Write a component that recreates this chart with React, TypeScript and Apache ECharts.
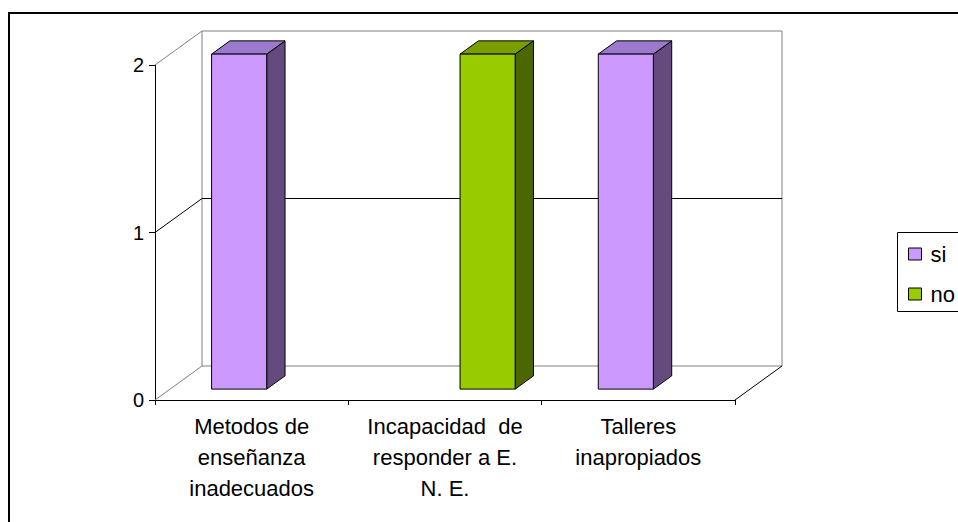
import React, { useEffect, useRef } from "react";
import * as echarts from "echarts";

const categories = [
  "Metodos de\nenseñanza\ninadecuados",
  "Incapacidad  de\nresponder a E.\nN. E.",
  "Talleres\ninapropiados",
];
const siValues = [2, 0, 2];
const noValues = [0, 2, 0];
const yMin = 0;
const yMax = 2;
const yInterval = 1;

const FONT = "'Liberation Sans', Arial, sans-serif";
const DX = 47;
const DY = -34;
const F1 = 0.32;
const F2 = 0.71;
const GRAY = "#808080";

const siColors = { front: "#CC99FF", top: "#9B79CC", side: "#654A80" };
const noColors = { front: "#99CC00", top: "#7A9E00", side: "#4C6600" };

function makeBarRenderer(slot: number, colors: { front: string; top: string; side: string }) {
  return (params: any, api: any) => {
    const v = api.value(1);
    if (!v) return null;
    const c = api.value(0);
    const base = api.coord([c, 0]);
    const top = api.coord([c, v]);
    const band = api.size([1, 0])[0];
    const bw = band * 0.285;
    const x0 = base[0] - band / 2 + band * 0.215 + slot * bw + F1 * DX;
    const yb = base[1] + F1 * DY;
    const yt = top[1] + F1 * DY;
    const ddx = (F2 - F1) * DX;
    const ddy = (F2 - F1) * DY;
    return {
      type: "group",
      children: [
        {
          type: "polygon",
          shape: {
            points: [
              [x0 + bw, yt],
              [x0 + bw + ddx, yt + ddy],
              [x0 + bw + ddx, yb + ddy],
              [x0 + bw, yb],
            ],
          },
          style: { fill: colors.side, stroke: "#000", lineWidth: 1 },
        },
        {
          type: "polygon",
          shape: {
            points: [
              [x0, yt],
              [x0 + bw, yt],
              [x0 + bw + ddx, yt + ddy],
              [x0 + ddx, yt + ddy],
            ],
          },
          style: { fill: colors.top, stroke: "#000", lineWidth: 1 },
        },
        {
          type: "rect",
          shape: { x: x0, y: yt, width: bw, height: yb - yt },
          style: { fill: colors.front, stroke: "#000", lineWidth: 1 },
        },
      ],
    };
  };
}

function wallRenderer(params: any, api: any) {
  const cs = params.coordSys;
  const x0 = cs.x;
  const x1 = cs.x + cs.width;
  const yb = api.coord([0, yMin])[1];
  const yt = api.coord([0, yMax])[1];
  const children: any[] = [
    {
      type: "rect",
      shape: { x: x0 + DX, y: yt + DY, width: x1 - x0, height: yb - yt },
      style: { fill: "#fff", stroke: GRAY, lineWidth: 1 },
    },
    {
      type: "line",
      shape: { x1: x0, y1: yt, x2: x0 + DX, y2: yt + DY },
      style: { stroke: GRAY, lineWidth: 1 },
    },
    {
      type: "line",
      shape: { x1: x0, y1: yb, x2: x0 + DX, y2: yb + DY },
      style: { stroke: GRAY, lineWidth: 1 },
    },
    {
      type: "line",
      shape: { x1: x1, y1: yb, x2: x1 + DX, y2: yb + DY },
      style: { stroke: "#000", lineWidth: 1 },
    },
  ];
  for (let t = yMin + yInterval; t < yMax; t += yInterval) {
    const y = api.coord([0, t])[1];
    children.push({
      type: "polyline",
      shape: {
        points: [
          [x0, y],
          [x0 + DX, y + DY],
          [x1 + DX, y + DY],
        ],
      },
      style: { stroke: "#000", lineWidth: 1, fill: null },
    });
  }
  return { type: "group", children };
}

export default function App() {
  const ref = useRef<HTMLDivElement>(null);
  useEffect(() => {
    if (!ref.current) return;
    const chart = echarts.init(ref.current, undefined, { renderer: "svg" });
    chart.setOption({
      animation: false,
      backgroundColor: "#fff",
      textStyle: { fontFamily: FONT },
      graphic: [
        {
          type: "polyline",
          shape: { points: [[1000, 13], [9, 13], [9, 600]] },
          style: { fill: null, stroke: "#000", lineWidth: 2 },
          z: 100,
          silent: true,
        },
        {
          type: "polyline",
          shape: { points: [[1000, 232.5], [897.5, 232.5], [897.5, 311.5], [1000, 311.5]] },
          style: { fill: null, stroke: "#000", lineWidth: 1 },
          z: 100,
          silent: true,
        },
      ],
      legend: {
        orient: "vertical",
        left: 898,
        top: 232,
        padding: [11, 10, 6, 10],
        itemGap: 18,
        itemWidth: 13,
        itemHeight: 12,
        borderWidth: 0,
        textStyle: { fontFamily: FONT, fontSize: 22, color: "#000", padding: [0, 0, 0, 4] },
        data: [
          { name: "si", icon: "rect", itemStyle: { color: siColors.front, borderColor: "#000", borderWidth: 1 } },
          { name: "no", icon: "rect", itemStyle: { color: noColors.front, borderColor: "#000", borderWidth: 1 } },
        ],
      },
      grid: { left: 155, right: 223, top: 65, bottom: 122, containLabel: false },
      xAxis: {
        type: "category",
        data: categories,
        axisLine: { show: true, lineStyle: { color: "#000", width: 1 } },
        axisTick: { show: true, length: 5, lineStyle: { color: "#000" } },
        axisLabel: {
          interval: 0,
          margin: 11,
          fontFamily: FONT,
          fontSize: 22,
          lineHeight: 31,
          color: "#000",
        },
        splitLine: { show: false },
      },
      yAxis: {
        type: "value",
        min: yMin,
        max: yMax,
        interval: yInterval,
        axisLine: { show: true, lineStyle: { color: "#000", width: 1 } },
        axisTick: { show: true, length: 6, lineStyle: { color: "#000" } },
        axisLabel: { margin: 11, fontFamily: FONT, fontSize: 20, color: "#000" },
        splitLine: { show: false },
      },
      series: [
        {
          name: "walls",
          type: "custom",
          renderItem: wallRenderer,
          data: [[0, 0]],
          z: 1,
          silent: true,
        },
        {
          name: "si",
          type: "custom",
          renderItem: makeBarRenderer(0, siColors),
          itemStyle: { color: siColors.front },
          data: siValues.map((v, i) => [i, v]),
          z: 3,
        },
        {
          name: "no",
          type: "custom",
          renderItem: makeBarRenderer(1, noColors),
          itemStyle: { color: noColors.front },
          data: noValues.map((v, i) => [i, v]),
          z: 3,
        },
      ],
    });
    return () => chart.dispose();
  }, []);
  return (
    <div
      ref={ref}
      style={{ position: "fixed", left: 0, top: 0, width: 958, height: 522, overflow: "hidden" }}
    />
  );
}
